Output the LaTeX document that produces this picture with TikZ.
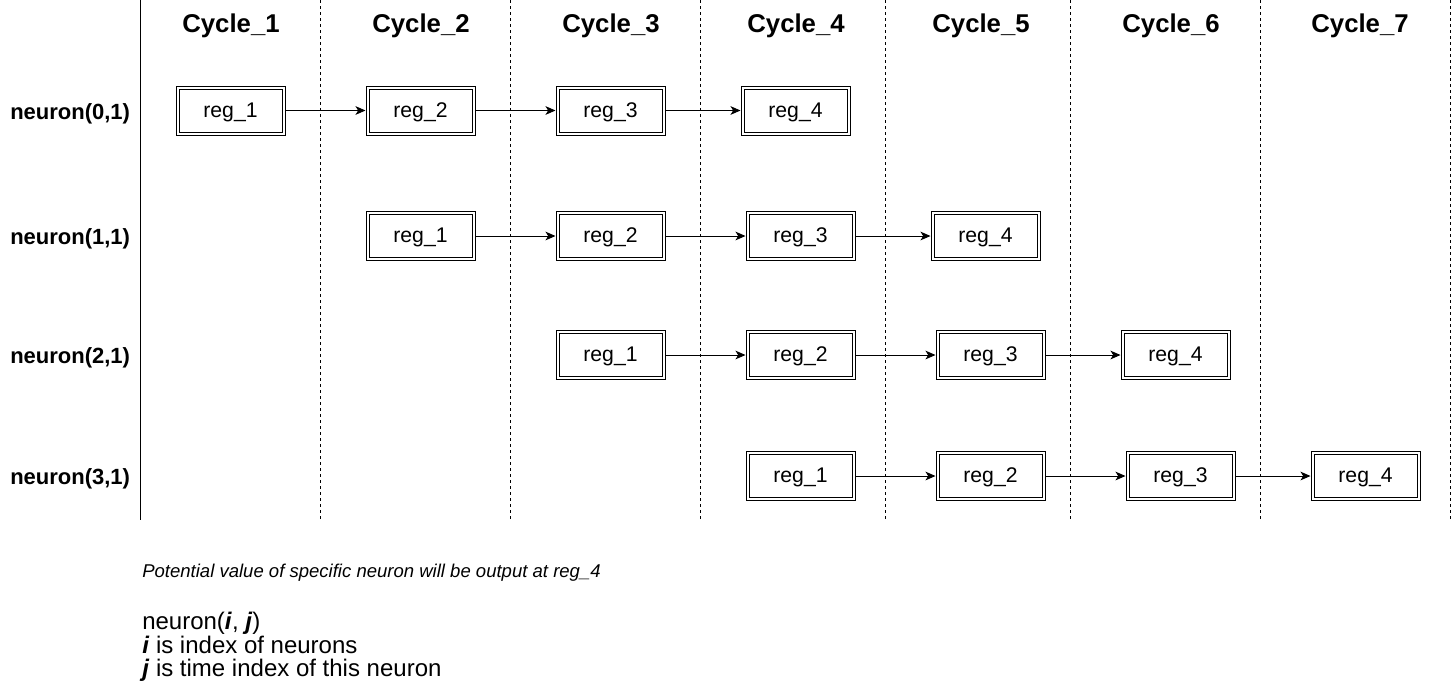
\documentclass[tikz,border=0pt]{standalone}
\usepackage{fontspec}
\setmainfont{Liberation Sans}
\usetikzlibrary{arrows.meta}
\begin{document}
\begin{tikzpicture}[x=0.75pt,y=-0.75pt,
  regbox/.style={draw, line width=0.75pt, double, double distance=1.5pt,
    minimum width=79.5pt, minimum height=34.5pt, inner sep=0pt, outer sep=1.5pt,
    text height=13pt, text depth=3pt,
    font=\fontsize{15.9pt}{18pt}\selectfont},
  cyclelbl/.style={font=\bfseries\fontsize{19.3pt}{21pt}\selectfont, anchor=base, inner sep=0pt},
  rowlbl/.style={font=\bfseries\fontsize{16.5pt}{19pt}\selectfont, anchor=base west, inner sep=0pt},
  flow/.style={line width=0.75pt, -{Stealth[length=7.5pt,width=6.5pt,inset=2pt]}},
  divider/.style={line width=0.75pt, dash pattern=on 2.25pt off 2.25pt},
  axis/.style={line width=0.75pt},
  notetext/.style={anchor=base west, inner sep=0pt, font=\itshape\fontsize{13.9pt}{16pt}\selectfont},
  legendtext/.style={anchor=base west, inner sep=0pt, font=\fontsize{18pt}{18pt}\selectfont}
]
\useasboundingbox (0,0) rectangle (1453,689);

% dividers
\coordinate (s0t) at (140.7,0);  \coordinate (s0b) at (140.7,520);
\draw[axis] (s0t) -- (s0b);
\foreach \x [count=\i] in {320.7,510.7,700.7,885.7,1070.7,1260.7,1450.7}{
  \coordinate (d\i t) at (\x,0);
  \coordinate (d\i b) at (\x,520);
  \draw[divider] (d\i t) -- (d\i b);
}

% cycle headers
\node[cyclelbl] (c1) at (231,32) {Cycle\_1};
\node[cyclelbl] (c2) at (421,32) {Cycle\_2};
\node[cyclelbl] (c3) at (611,32) {Cycle\_3};
\node[cyclelbl] (c4) at (796,32) {Cycle\_4};
\node[cyclelbl] (c5) at (981,32) {Cycle\_5};
\node[cyclelbl] (c6) at (1171,32) {Cycle\_6};
\node[cyclelbl] (c7) at (1360,32) {Cycle\_7};

% row labels
\node[rowlbl] (n0) at (10,119) {neuron(0,1)};
\node[rowlbl] (n1) at (10,244.5) {neuron(1,1)};
\node[rowlbl] (n2) at (10,363.5) {neuron(2,1)};
\node[rowlbl] (n3) at (10,484.5) {neuron(3,1)};

% row 0
\node[regbox] (a1) at (230.5,110.5) {reg\_1};
\node[regbox] (a2) at (420.5,110.5) {reg\_2};
\node[regbox] (a3) at (610.5,110.5) {reg\_3};
\node[regbox] (a4) at (795.5,110.5) {reg\_4};
% row 1
\node[regbox] (b1) at (420.5,236) {reg\_1};
\node[regbox] (b2) at (610.5,236) {reg\_2};
\node[regbox] (b3) at (800.5,236) {reg\_3};
\node[regbox] (b4) at (985.5,236) {reg\_4};
% row 2
\node[regbox] (e1) at (610.5,355) {reg\_1};
\node[regbox] (e2) at (800.5,355) {reg\_2};
\node[regbox] (e3) at (990.5,355) {reg\_3};
\node[regbox] (e4) at (1175.5,355) {reg\_4};
% row 3
\node[regbox] (f1) at (800.5,476) {reg\_1};
\node[regbox] (f2) at (990.5,476) {reg\_2};
\node[regbox] (f3) at (1180.5,476) {reg\_3};
\node[regbox] (f4) at (1365.5,476) {reg\_4};

\foreach \r in {a,b,e,f}{
  \draw[flow] (\r1) -- (\r2);
  \draw[flow] (\r2) -- (\r3);
  \draw[flow] (\r3) -- (\r4);
}

% notes
\node[notetext] (note) at (142,577) {Potential value of specific neuron will be output at reg\_4};
\node[legendtext] (l1) at (142,629) {neuron(\textbf{\textit{i}}, \textbf{\textit{j}})};
\node[legendtext] (l2) at (142,653) {\textbf{\textit{i}} is index of neurons};
\node[legendtext] (l3) at (142,676) {\textbf{\textit{j}} is time index of this neuron};
\end{tikzpicture}
\end{document}
